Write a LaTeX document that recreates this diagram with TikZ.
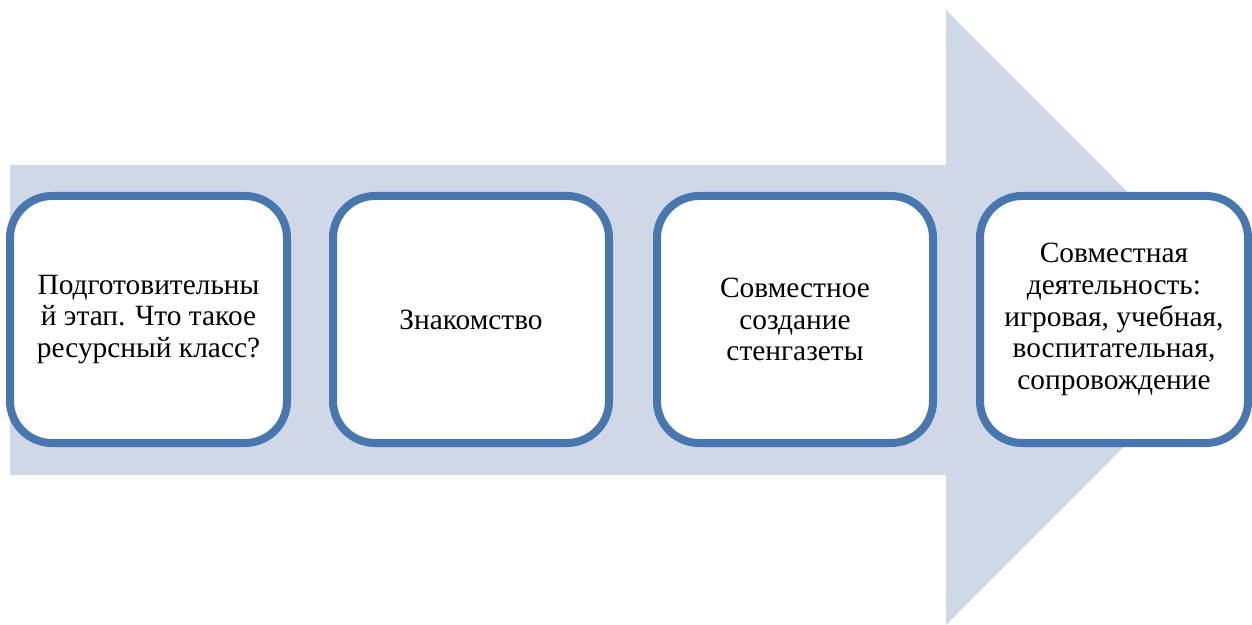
\documentclass[tikz,border=0pt]{standalone}
\usepackage{fontspec}
\setmainfont{Liberation Serif}
\newfontfamily\boxfont{Liberation Serif}
\usetikzlibrary{shadows}
\definecolor{arrowfill}{HTML}{D0D8E8}
\definecolor{boxline}{HTML}{4876AF}
\tikzset{
  stepbox/.style={draw=boxline, line width=4pt, fill=white, rounded corners=21pt,
    minimum height=123.5pt, align=center, inner sep=0pt,
    font=\boxfont\fontsize{14.7}{15.8}\selectfont,
    drop shadow={shadow xshift=0.8pt, shadow yshift=-1.6pt, opacity=0.35, fill=black!60}},
}
\begin{document}
\begin{tikzpicture}[x={(0.5pt,0)}, y={(0,-0.5pt)}]
\useasboundingbox (0,0) rectangle (1252,625);
\fill[arrowfill] (10,165) -- (946,165) -- (946,10) -- (1253,317.5) -- (946,625) -- (946,475) -- (10,475) -- cycle;
\node[stepbox, minimum width=138.5pt] (b1) at (148.5,319.5) {Подготовительны\\й этап. Что такое\\ресурсный класс?};
\node[stepbox, minimum width=138pt] (b2) at (471,319.5) {Знакомство};
\node[stepbox, minimum width=138pt] (b3) at (795,319.5) {Совместное\\создание\\стенгазеты};
\node[stepbox, minimum width=134pt] (b4) at (1114,319.5) {Совместная\\деятельность:\\игровая, учебная,\\воспитательная,\\сопровождение};
\end{tikzpicture}
\end{document}
